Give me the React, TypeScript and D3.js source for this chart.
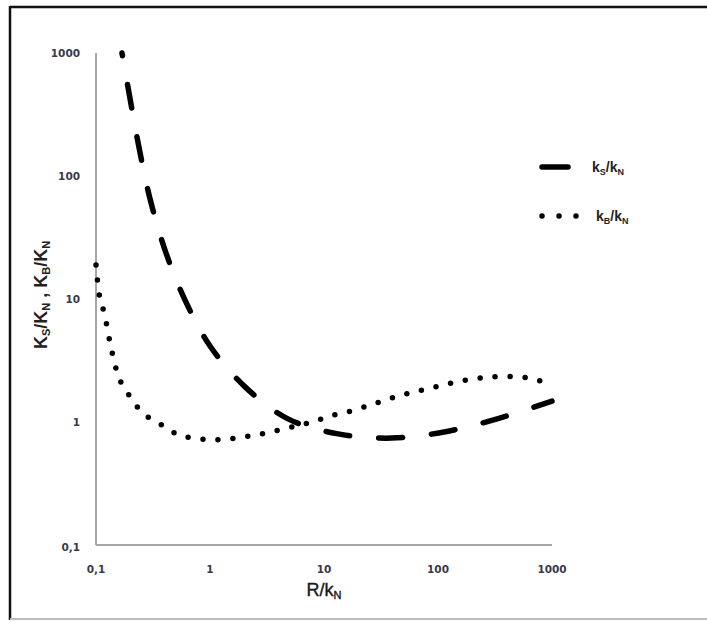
import React from "react";
import * as d3 from "d3";

// Ratio curves against R/kN (log–log)
const ksX = [0.169, 0.197, 0.238, 0.298, 0.403, 0.604, 1.0, 2.03, 4.83, 13.3, 39.4, 113, 330, 1000];
const ksY = [1000, 447, 172, 65, 25, 9.8, 4.15, 1.93, 1.06, 0.8, 0.74, 0.83, 1.06, 1.48];

const kbX = [0.1, 0.108, 0.118, 0.133, 0.153, 0.172, 0.203, 0.243, 0.31, 0.41, 0.533, 0.724, 0.98, 1.33, 1.83, 2.49, 3.36, 4.56, 6.2, 8.1, 11, 14.7, 26.9, 48.5, 86.8, 158, 294, 540, 738, 812];
const kbY = [18.9, 10.2, 7.7, 4.38, 2.55, 1.96, 1.57, 1.25, 1.04, 0.91, 0.78, 0.74, 0.72, 0.72, 0.75, 0.78, 0.83, 0.88, 0.95, 1.0, 1.12, 1.18, 1.4, 1.66, 1.89, 2.15, 2.32, 2.32, 2.19, 2.15];

const xTicks = [0.1, 1, 10, 100, 1000];
const yTicks = [0.1, 1, 10, 100, 1000];
const tickLabel = (v: number) => (v < 1 ? "0,1" : String(v));

const W = 707;
const H = 622;

export default function App() {
  const x = d3.scaleLog().domain([0.1, 1000]).range([96, 552]);
  const y = d3.scaleLog().domain([0.1, 1000]).range([545, 53]);

  const line = d3
    .line<[number, number]>()
    .x((d) => x(d[0]))
    .y((d) => y(d[1]))
    .curve(d3.curveCatmullRom.alpha(0.5));

  const ksPath = line(ksX.map((v, i) => [v, ksY[i]]) as [number, number][]) || "";
  const kbPath = line(kbX.map((v, i) => [v, kbY[i]]) as [number, number][]) || "";

  const tickFont = {
    fontFamily: "DejaVu Sans, sans-serif",
    fontSize: 10.5,
    fontWeight: "bold" as const,
    fill: "#3a3a4a",
  };
  const [x0, x1] = x.range();
  const [yb, yt] = y.range();

  return (
    <svg
      width={W}
      height={H}
      style={{ position: "absolute", left: 0, top: 0, background: "#fff" }}
    >
      {/* frame */}
      <line x1={10} y1={7} x2={W} y2={7} stroke="#111" strokeWidth={2.5} />
      <line x1={10} y1={6} x2={10} y2={620} stroke="#111" strokeWidth={2.5} />
      <line x1={10} y1={619} x2={W} y2={619} stroke="#bdbdbd" strokeWidth={2} />

      {/* axes */}
      <line x1={x0} y1={yt} x2={x0} y2={yb} stroke="#a6a6a6" strokeWidth={2} />
      <line x1={x0} y1={yb} x2={x1} y2={yb} stroke="#a6a6a6" strokeWidth={2} />

      {yTicks.map((t) => (
        <text key={"y" + t} x={80} y={y(t) + (t === 0.1 ? 2 : 0)} dy="0.35em" textAnchor="end" {...tickFont}>
          {tickLabel(t)}
        </text>
      ))}
      {xTicks.map((t) => (
        <text key={"x" + t} x={x(t)} y={569} dy="0.35em" textAnchor="middle" {...tickFont}>
          {tickLabel(t)}
        </text>
      ))}

      {/* axis titles */}
      <text x={324} y={596} textAnchor="middle" fontFamily="Liberation Sans, Arial, sans-serif" fontSize={18} fill="#1a1a1a" stroke="#1a1a1a" strokeWidth={0.4}>
        R/k
        <tspan fontSize={11} dy={3}>N</tspan>
      </text>
      <text
        transform="translate(47,295) rotate(-90)"
        textAnchor="middle"
        fontFamily="Liberation Sans, Arial, sans-serif"
        fontSize={18}
        fontWeight="bold"
        fill="#222"
      >
        K<tspan fontSize={11} dy={3}>S</tspan>
        <tspan dy={-3}>/K</tspan>
        <tspan fontSize={11} dy={3}>N</tspan>
        <tspan dy={-3}> , K</tspan>
        <tspan fontSize={11} dy={3}>B</tspan>
        <tspan dy={-3}>/K</tspan>
        <tspan fontSize={11} dy={3}>N</tspan>
      </text>

      {/* series */}
      <path
        d={ksPath}
        fill="none"
        stroke="#000"
        strokeWidth={5.5}
        strokeLinecap="round"
        strokeDasharray="24 29"
        strokeDashoffset={21}
      />
      <path
        d={kbPath}
        fill="none"
        stroke="#000"
        strokeWidth={5.5}
        strokeLinecap="round"
        strokeDasharray="0 15"
      />

      {/* legend */}
      <line x1={542} y1={167} x2={568} y2={167} stroke="#000" strokeWidth={5.5} strokeLinecap="round" />
      <text x={592} y={172} fontFamily="Liberation Sans, Arial, sans-serif" fontSize={14} fontWeight="bold" fill="#222">
        k<tspan fontSize={9} dy={3}>S</tspan>
        <tspan dy={-3}>/k</tspan>
        <tspan fontSize={9} dy={3}>N</tspan>
      </text>
      <line x1={542} y1={216} x2={577} y2={216} stroke="#000" strokeWidth={5.5} strokeLinecap="round" strokeDasharray="0 17" />
      <text x={596} y={221} fontFamily="Liberation Sans, Arial, sans-serif" fontSize={14} fontWeight="bold" fill="#222">
        k<tspan fontSize={9} dy={3}>B</tspan>
        <tspan dy={-3}>/k</tspan>
        <tspan fontSize={9} dy={3}>N</tspan>
      </text>
    </svg>
  );
}
